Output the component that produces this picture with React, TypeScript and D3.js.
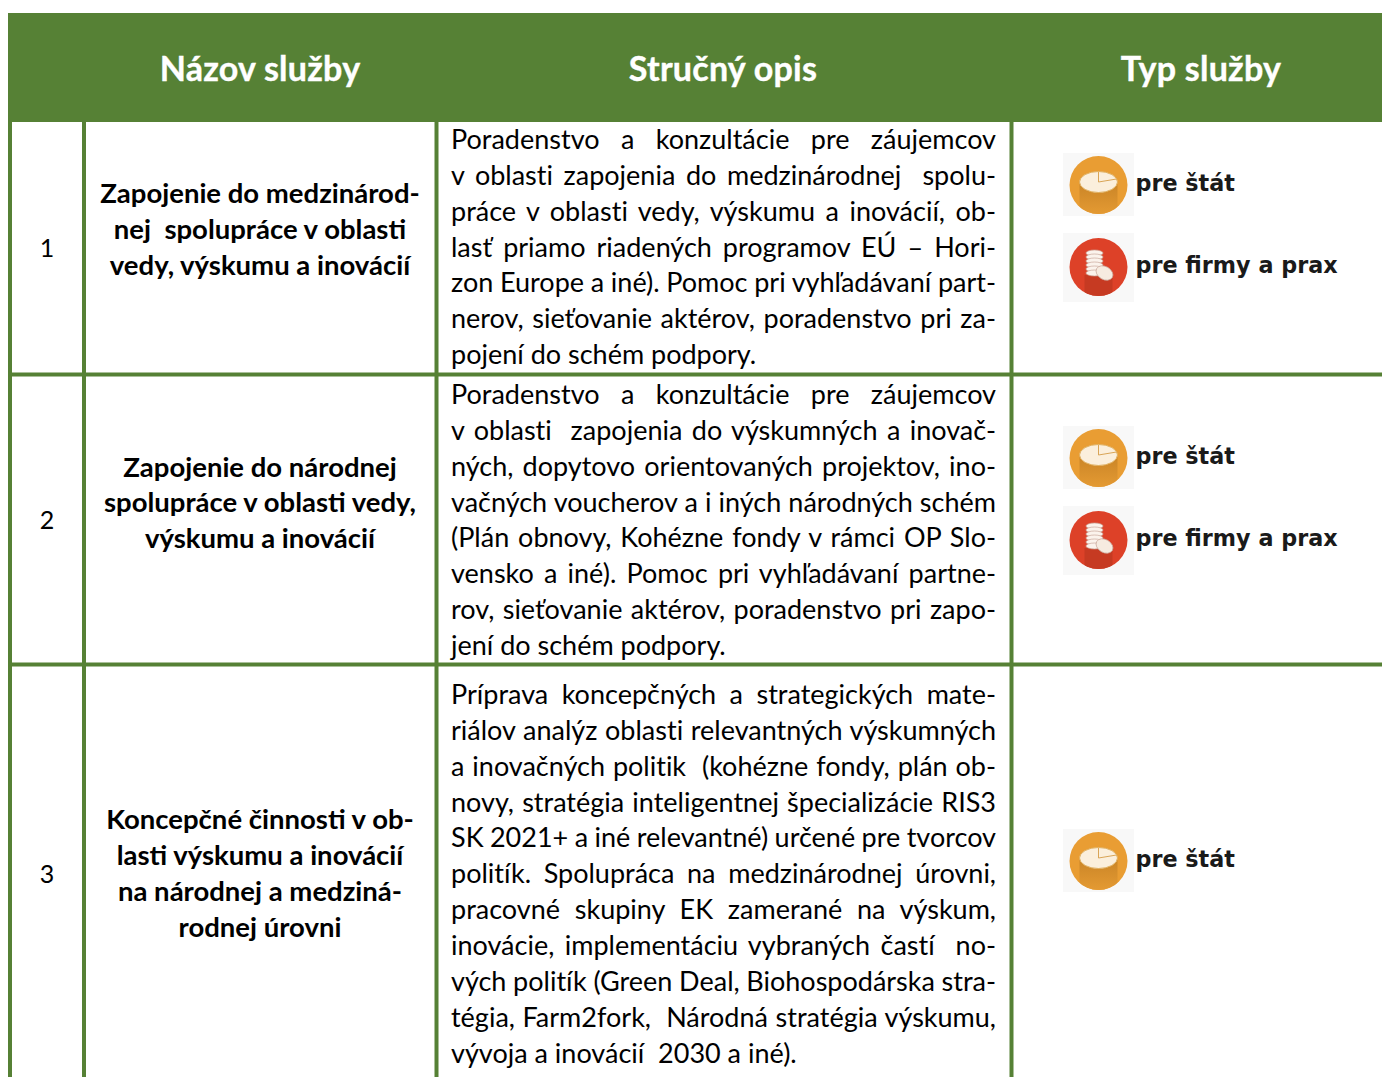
import { useEffect, useRef } from "react";
import * as d3 from "d3";

const FONT = "Lato, Carlito, sans-serif";
const GREEN = "#568135";

const headers = ["Názov služby", "Stručný opis", "Typ služby"];
const rowNumbers = ["1", "2", "3"];

const names = [
  ["Zapojenie do medzinárod-", "nej  spolupráce v oblasti", "vedy, výskumu a inovácií"],
  ["Zapojenie do národnej", "spolupráce v oblasti vedy,", "výskumu a inovácií"],
  ["Koncepčné činnosti v ob-", "lasti výskumu a inovácií", "na národnej a medziná-", "rodnej úrovni"],
];

const descriptions = [
  [
    "Poradenstvo a konzultácie pre záujemcov",
    "v oblasti zapojenia do medzinárodnej  spolu-",
    "práce v oblasti vedy, výskumu a inovácií, ob-",
    "lasť priamo riadených programov EÚ – Hori-",
    "zon Europe a iné). Pomoc pri vyhľadávaní part-",
    "nerov, sieťovanie aktérov, poradenstvo pri za-",
    "pojení do schém podpory.",
  ],
  [
    "Poradenstvo a konzultácie pre záujemcov",
    "v oblasti  zapojenia do výskumných a inovač-",
    "ných, dopytovo orientovaných projektov, ino-",
    "vačných voucherov a i iných národných schém",
    "(Plán obnovy, Kohézne fondy v rámci OP Slo-",
    "vensko a iné). Pomoc pri vyhľadávaní partne-",
    "rov, sieťovanie aktérov, poradenstvo pri zapo-",
    "jení do schém podpory.",
  ],
  [
    "Príprava koncepčných a strategických mate-",
    "riálov analýz oblasti relevantných výskumných",
    "a inovačných politik  (kohézne fondy, plán ob-",
    "novy, stratégia inteligentnej špecializácie RIS3",
    "SK 2021+ a iné relevantné) určené pre tvorcov",
    "politík. Spolupráca na medzinárodnej úrovni,",
    "pracovné skupiny EK zamerané na výskum,",
    "inovácie, implementáciu vybraných častí  no-",
    "vých politík (Green Deal, Biohospodárska stra-",
    "tégia, Farm2fork,  Národná stratégia výskumu,",
    "vývoja a inovácií  2030 a iné).",
  ],
];

const serviceTypes = [
  ["stat", "firmy"],
  ["stat", "firmy"],
  ["stat"],
];
const typeLabels: Record<string, string> = { stat: "pre štát", firmy: "pre firmy a prax" };

// table grid
const columnEdges = [10, 84, 436.5, 1011.5];
const rowEdges = [122, 374.5, 664.5, 1077];
const firstBaselines = [149, 404, 704];
const iconCenters = [
  [185, 267],
  [458, 540],
  [861],
];

const App = () => {
  const svgRef = useRef<SVGSVGElement | null>(null);

  useEffect(() => {
    if (!svgRef.current) return;
    const svg = d3.select(svgRef.current);
    svg.selectAll("*").remove();

    const defs = svg.append("defs");
    const grad = defs.append("linearGradient").attr("id", "cyl").attr("x1", 0).attr("x2", 0).attr("y1", 0).attr("y2", 1);
    grad.append("stop").attr("offset", 0).attr("stop-color", "#c98426");
    grad.append("stop").attr("offset", 1).attr("stop-color", "#e49a33");
    defs.append("clipPath").attr("id", "disc").append("circle").attr("r", 29);

    svg.append("rect").attr("x", 8).attr("y", 13).attr("width", 1374).attr("height", 109).attr("fill", GREEN);

    const headerX = [260, 723, 1201];
    svg
      .selectAll(".head")
      .data(headers)
      .enter()
      .append("text")
      .attr("class", "head")
      .attr("x", (_, i) => headerX[i])
      .attr("y", 80.5)
      .attr("text-anchor", "middle")
      .attr("font-family", FONT)
      .attr("font-weight", 700)
      .attr("font-size", 34)
      .attr("letter-spacing", 0.25)
      .attr("fill", "#fff")
      .attr("stroke", "#fff")
      .attr("stroke-width", 0.4)
      .text((d) => d);

    // grid
    svg
      .selectAll(".v")
      .data(columnEdges)
      .enter()
      .append("line")
      .attr("x1", (d) => d)
      .attr("x2", (d) => d)
      .attr("y1", 122)
      .attr("y2", 1077)
      .attr("stroke", GREEN)
      .attr("stroke-width", 4);
    svg
      .selectAll(".h")
      .data(rowEdges.slice(1, 3))
      .enter()
      .append("line")
      .attr("x1", 8)
      .attr("x2", 1382)
      .attr("y1", (d) => d)
      .attr("y2", (d) => d)
      .attr("stroke", GREEN)
      .attr("stroke-width", 4);

    const step = 35.85;
    const numberY = [257, 529, 883];

    rowNumbers.forEach((n, r) => {
      svg
        .append("text")
        .attr("x", 47)
        .attr("y", numberY[r])
        .attr("text-anchor", "middle")
        .attr("font-family", FONT)
        .attr("font-size", 25)
        .attr("fill", "#000")
        .text(n);

      // service name, centred on its line block
      const nameLines = names[r];
      const nameStep = r === 1 ? 35.5 : 36;
      const nameMid = [230, 503, 874][r];
      nameLines.forEach((line, i) => {
        svg
          .append("text")
          .attr("x", 260)
          .attr("y", nameMid + (i - (nameLines.length - 1) / 2) * nameStep + 9)
          .attr("text-anchor", "middle")
          .attr("font-family", FONT)
          .attr("font-weight", 700)
          .attr("font-size", 27.5)
          .attr("fill", "#000")
          .style("white-space", "pre")
          .text(line);
      });

      // description, justified with word spacing
      const lines = descriptions[r];
      lines.forEach((line, i) => {
        const t = svg
          .append("text")
          .attr("x", 451)
          .attr("y", firstBaselines[r] + i * step)
          .attr("font-family", FONT)
          .attr("font-size", 27)
          .attr("fill", "#000")
          .style("white-space", "pre")
          .style("font-variant-ligatures", "none")
          .text(line);
        const node = t.node() as SVGTextElement;
        const len = node.getComputedTextLength();
        const gaps = line.split(" ").length - 1;
        const isLast = i === lines.length - 1;
        if (!isLast && gaps > 0) t.attr("word-spacing", (545 - len) / gaps);
      });

      // type icons and labels
      serviceTypes[r].forEach((type, i) => {
        const cy = iconCenters[r][i];
        const g = svg.append("g").attr("transform", `translate(1098.5,${cy})`);
        if (type === "stat") {
          g.append("rect").attr("x", -35.5).attr("y", -32).attr("width", 71).attr("height", 63).attr("fill", "#f8f8f8");
          g.append("circle").attr("r", 29).attr("fill", "#e99d33");
          g.append("rect")
            .attr("x", -19)
            .attr("y", -3)
            .attr("width", 38)
            .attr("height", 32)
            .attr("fill", "url(#cyl)")
            .attr("clip-path", "url(#disc)");
          g.append("ellipse").attr("cy", -3).attr("rx", 19).attr("ry", 10.5).attr("fill", "#fbefdc").attr("stroke", "#e0b060");
          g.append("path").attr("d", "M0,-3 L0,-13 M0,-3 L18,-6").attr("stroke", "#d9a557").attr("fill", "none");
        } else {
          g.append("rect").attr("x", -35.5).attr("y", -34).attr("width", 71).attr("height", 69).attr("fill", "#f8f8f8");
          g.append("circle").attr("r", 29).attr("fill", "#dd4128");
          g.append("rect")
            .attr("x", -14)
            .attr("y", 8)
            .attr("width", 28)
            .attr("height", 22)
            .attr("fill", "#c63a22")
            .attr("clip-path", "url(#disc)");
          [-14, -10, -6, -2, 2, 6].forEach((dy) => {
            g.append("ellipse").attr("cx", -4).attr("cy", dy).attr("rx", 8.5).attr("ry", 3).attr("fill", "#fbf3ec").attr("stroke", "#c9a79b").attr("stroke-width", 0.7);
          });
          g.append("ellipse").attr("cx", 6).attr("cy", 6).attr("rx", 9).attr("ry", 6.5).attr("fill", "#f6ebe0").attr("stroke", "#c9a79b").attr("stroke-width", 0.7).attr("transform", "rotate(30 6 6)");
        }
        svg
          .append("text")
          .attr("x", 1135.5)
          .attr("y", cy + 5.5)
          .attr("font-family", "'DejaVu Sans', Verdana, sans-serif")
          .attr("font-weight", 700)
          .attr("font-size", 22.3)
          .attr("fill", "#1a1a1a")
          .text(typeLabels[type]);
      });
    });
  }, []);

  return (
    <svg
      ref={svgRef}
      width={1382}
      height={1077}
      style={{ position: "absolute", left: 0, top: 0, display: "block", background: "#fff" }}
    />
  );
};

export default App;
